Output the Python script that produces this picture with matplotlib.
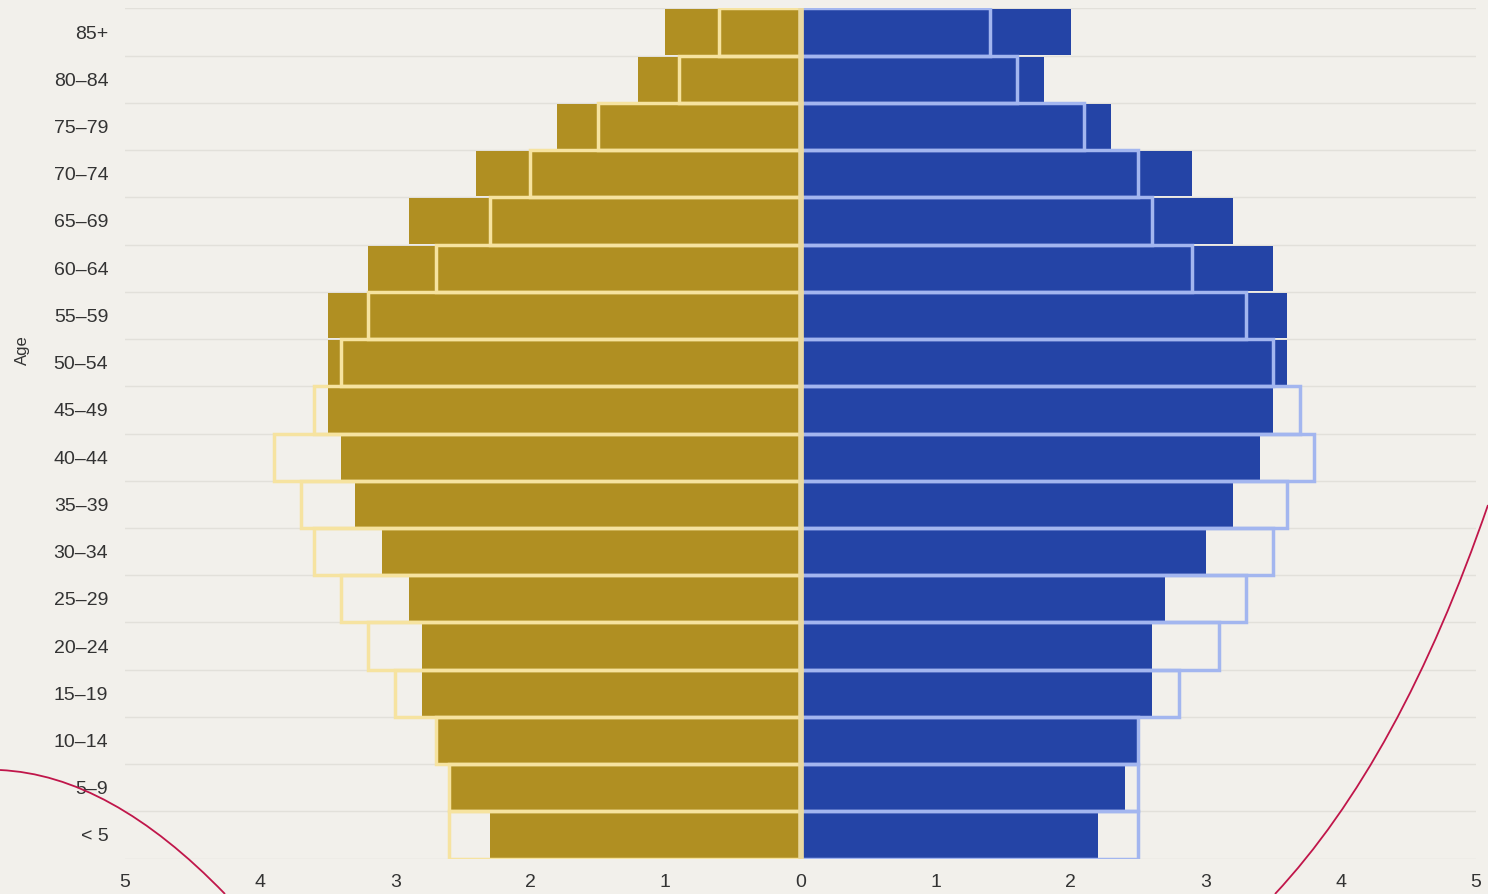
import numpy as np
import matplotlib
matplotlib.use('Agg')
import matplotlib.pyplot as plt
from matplotlib.path import Path
from matplotlib.patches import PathPatch

# age groups, top to bottom
ages = ['85+', '80–84', '75–79', '70–74', '65–69', '60–64', '55–59', '50–54', '45–49',
        '40–44', '35–39', '30–34', '25–29', '20–24', '15–19', '10–14', '5–9', '< 5']

# left side (gold), percent of population
left_now = [1.0, 1.2, 1.8, 2.4, 2.9, 3.2, 3.5, 3.5, 3.5,
            3.4, 3.3, 3.1, 2.9, 2.8, 2.8, 2.7, 2.6, 2.3]
left_then = [0.6, 0.9, 1.5, 2.0, 2.3, 2.7, 3.2, 3.4, 3.6,
             3.9, 3.7, 3.6, 3.4, 3.2, 3.0, 2.7, 2.6, 2.6]

# right side (blue)
right_now = [2.0, 1.8, 2.3, 2.9, 3.2, 3.5, 3.6, 3.6, 3.5,
             3.4, 3.2, 3.0, 2.7, 2.6, 2.6, 2.5, 2.4, 2.2]
right_then = [1.4, 1.6, 2.1, 2.5, 2.6, 2.9, 3.3, 3.5, 3.7,
              3.8, 3.6, 3.5, 3.3, 3.1, 2.8, 2.5, 2.5, 2.5]

xticks = [-5, -4, -3, -2, -1, 0, 1, 2, 3, 4, 5]

bg = '#f2f0eb'
gold = '#b08f22'
gold_light = '#f6e3a0'
blue = '#2444a6'
blue_light = '#a3b6ef'

plt.rcParams['font.family'] = ['Liberation Sans', 'DejaVu Sans']

fig = plt.figure(figsize=(14.88, 8.94), dpi=100, facecolor=bg)
ax = fig.add_axes([0.084, 0.0396, 0.908, 0.951])
ax.set_facecolor(bg)

y = np.arange(len(ages))

# filled bars
ax.barh(y, [-v for v in left_now], height=0.96, color=gold, zorder=2)
ax.barh(y, right_now, height=0.96, color=blue, zorder=2)

# outline bars
ax.barh(y, right_then, height=1.0, facecolor='none', edgecolor=blue_light,
        linewidth=2.5, zorder=3)
ax.barh(y, [-v for v in left_then], height=1.0, facecolor='none', edgecolor=gold_light,
        linewidth=2.5, zorder=3)
ax.axvline(0, color='#e9d8a0', linewidth=4, zorder=4)

ax.set_xlim(-5, 5)
ax.set_ylim(len(ages) - 0.5, -0.5)
ax.set_yticks(y)
ax.set_yticklabels(ages)
ax.set_xticks(xticks)
ax.set_xticklabels([str(abs(t)) for t in xticks])

# gridlines between rows
ax.set_yticks(np.arange(len(ages) + 1) - 0.5, minor=True)
ax.grid(True, axis='y', which='minor', color='#e2e0da', linewidth=1, zorder=0)
ax.tick_params(axis='both', which='both', length=0)
ax.tick_params(axis='y', pad=12, labelsize=14, labelcolor='#333333')
ax.tick_params(axis='x', pad=11, labelsize=14, labelcolor='#333333')
ax.set_ylabel('Age', fontsize=12, color='#333333')
ax.yaxis.set_label_coords(-0.07, 0.598)
for s in ax.spines.values():
    s.set_visible(False)

# red pen strokes over the screenshot
W, H = 1488, 894
def fig_pt(px, py):
    return (px / W, 1 - py / H)

codes = [Path.MOVETO, Path.CURVE3, Path.CURVE3]
left_stroke = Path([fig_pt(0, 770), fig_pt(110, 775), fig_pt(225, 894)], codes)
right_stroke = Path([fig_pt(1275, 894), fig_pt(1400, 760), fig_pt(1488, 505)], codes)
for p in (left_stroke, right_stroke):
    fig.add_artist(PathPatch(p, facecolor='none', edgecolor='#c0164a', linewidth=1.3,
                             transform=fig.transFigure, zorder=10))

fig.savefig('out.png', dpi=100, facecolor=bg)
